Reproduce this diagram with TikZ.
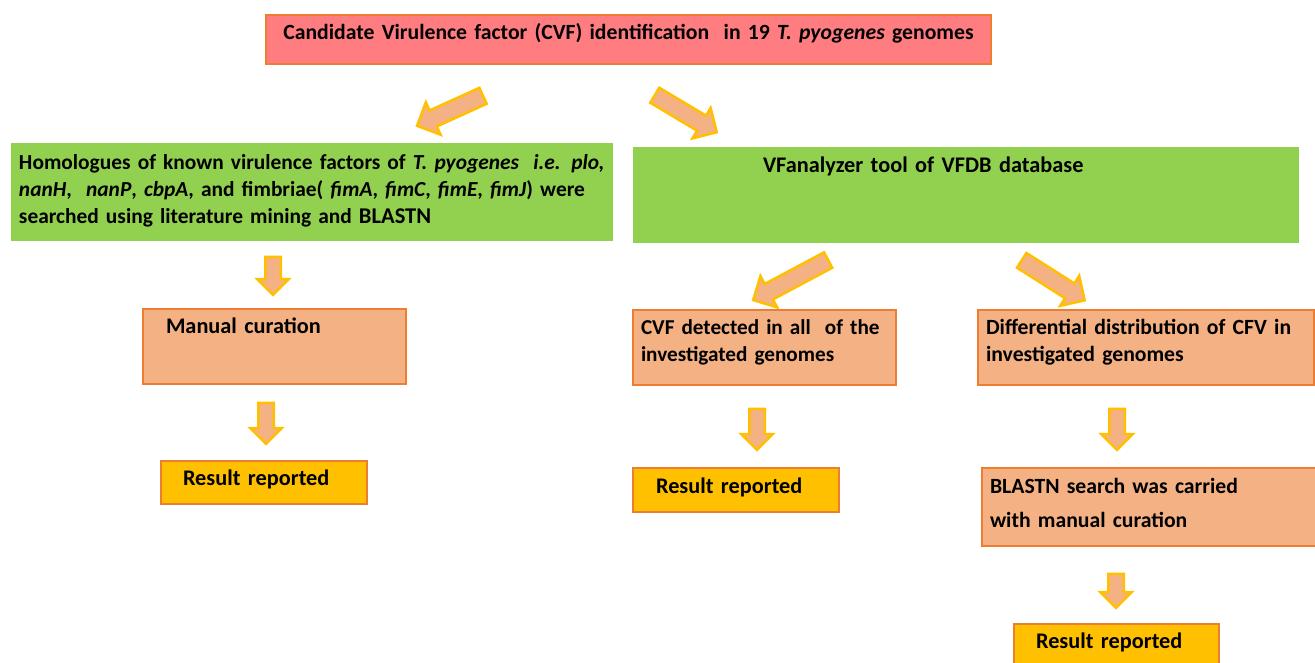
\documentclass[tikz,border=0pt]{standalone}
\usepackage{fontspec}
\setmainfont{Carlito}
\usepackage{xcolor}
\usetikzlibrary{shapes.arrows, calc}
\definecolor{titlered}{HTML}{FF7C80}
\definecolor{boxline}{HTML}{ED7D31}
\definecolor{toolgreen}{HTML}{92D050}
\definecolor{curepeach}{HTML}{F4B183}
\definecolor{resultgold}{HTML}{FFC000}
\definecolor{arrowgold}{HTML}{FFC000}
\newcommand{\fsz}[2]{\fontsize{#1}{#2}\selectfont\bfseries}
\tikzstyle{every node}=[font=\fsz{21.7}{27}]
\tikzstyle{box} = [rectangle, draw=boxline, line width=2pt, anchor=north west, inner ysep=0pt, align=left]
\tikzstyle{titlebox} = [box, fill=titlered]
\tikzstyle{greenbox} = [box, draw=none, fill=toolgreen]
\tikzstyle{curebox} = [box, fill=curepeach]
\tikzstyle{resultbox} = [box, fill=resultgold, font=\fsz{22.3}{27}]
\tikzstyle{bigarrow} = [single arrow, draw=arrowgold, fill=curepeach, line width=2.5pt, inner xsep=0pt, inner ysep=6.5pt, single arrow head extend=8pt, anchor=center]
\tikzstyle{slantarrow} = [bigarrow, inner ysep=7.5pt, single arrow head extend=9pt]
% block arrow from one named point to another
\newcommand{\blockarrow}[3][bigarrow]{%
  \path let \p1=(#2), \p2=(#3), \n1={atan2(\y2-\y1,\x2-\x1)}, \n2={veclen(\x2-\x1,\y2-\y1)} in
    node[#1, minimum height=\n2, rotate=\n1] at ($(#2)!0.5!(#3)$) {};}

\begin{document}
\begin{tikzpicture}[x=1pt, y=-1pt]
    \useasboundingbox (0,0) rectangle (1315,662);
    % Place nodes
    \node [titlebox, align=center, inner xsep=8pt, text width=709pt, text height=24pt, text depth=25pt] (crit) at (265,14)
        {Candidate Virulence factor (CVF) identification\ \ in 19 \textit{T. pyogenes} genomes};
    \node [greenbox, font=\fsz{21.4}{27}, inner xsep=8pt, text width=586pt, text height=26pt, text depth=72pt] (homol) at (10,142)
        {\mbox{Homologues of known virulence factors of \textit{T. pyogenes}\ \ \textit{i.e. plo,}}\\
         \mbox{\textit{nanH},\ \ \textit{nanP}, \textit{cbpA}, and fimbriae( \textit{fimA}, \textit{fimC}, \textit{fimE}, \textit{fimJ}) were}\\
         \mbox{searched using literature mining and {\fontsize{22.5}{27}\selectfont BLASTN}}};
    \node [greenbox, font=\fsz{22.3}{27}, inner xsep=130pt, text width=406pt, text height=25pt, text depth=71pt] (tool) at (632,146)
        {VFanalyzer tool of VFDB database};
    \node [curebox, font=\fsz{22.3}{27}, inner xsep=23pt, text width=217pt, text height=24pt, text depth=51pt] (manual) at (142,308)
        {Manual curation};
    \node [resultbox, inner xsep=22pt, text width=162pt, text height=24pt, text depth=19pt] (resleft) at (160,460)
        {Result reported};
    \node [curebox, font=\fsz{21.2}{27}, inner xsep=8pt, text width=247pt, text height=24pt, text depth=51pt] (allcvf) at (632,309)
        {CVF detected in all\ \ of the\\ investigated genomes};
    \node [curebox, inner xsep=8pt, text width=320pt, text height=24pt, text depth=51pt] (diffcvf) at (977,309)
        {Differential distribution of CFV in\\ investigated genomes};
    \node [resultbox, inner xsep=23pt, text width=160pt, text height=25pt, text depth=19pt] (resmid) at (632,467)
        {Result reported};
    \node [curebox, font=\fsz{21.7}{34}, inner xsep=8pt, text width=318pt, text height=25pt, text depth=53pt] (blast) at (981,467)
        {BLASTN search was carried\\ with manual curation};
    \node [resultbox, inner xsep=22pt, text width=161pt, text height=24pt, text depth=21pt] (resright) at (1013,623)
        {Result reported};
    % Arrow ends
    \coordinate (crit-l) at (487,94);    \coordinate (homol-t) at (421,124);
    \coordinate (crit-r) at (651,93);    \coordinate (tool-t) at (713,130);
    \coordinate (homol-b) at (273,253);  \coordinate (manual-t) at (273,291);
    \coordinate (manual-b) at (266,399); \coordinate (resleft-t) at (266,440);
    \coordinate (tool-l) at (832,258);   \coordinate (allcvf-t) at (757,298);
    \coordinate (tool-r) at (1018,258);  \coordinate (diffcvf-t) at (1081,298);
    \coordinate (allcvf-b) at (757,405); \coordinate (resmid-t) at (757,446);
    \coordinate (diffcvf-b) at (1117,405); \coordinate (blast-t) at (1117,446);
    \coordinate (blast-b) at (1116,570); \coordinate (resright-t) at (1116,604);
    % Draw arrows
    \blockarrow[slantarrow]{crit-l}{homol-t}
    \blockarrow[slantarrow]{crit-r}{tool-t}
    \blockarrow{homol-b}{manual-t}
    \blockarrow{manual-b}{resleft-t}
    \blockarrow[slantarrow]{tool-l}{allcvf-t}
    \blockarrow[slantarrow]{tool-r}{diffcvf-t}
    \blockarrow{allcvf-b}{resmid-t}
    \blockarrow{diffcvf-b}{blast-t}
    \blockarrow{blast-b}{resright-t}
\end{tikzpicture}
\end{document}
